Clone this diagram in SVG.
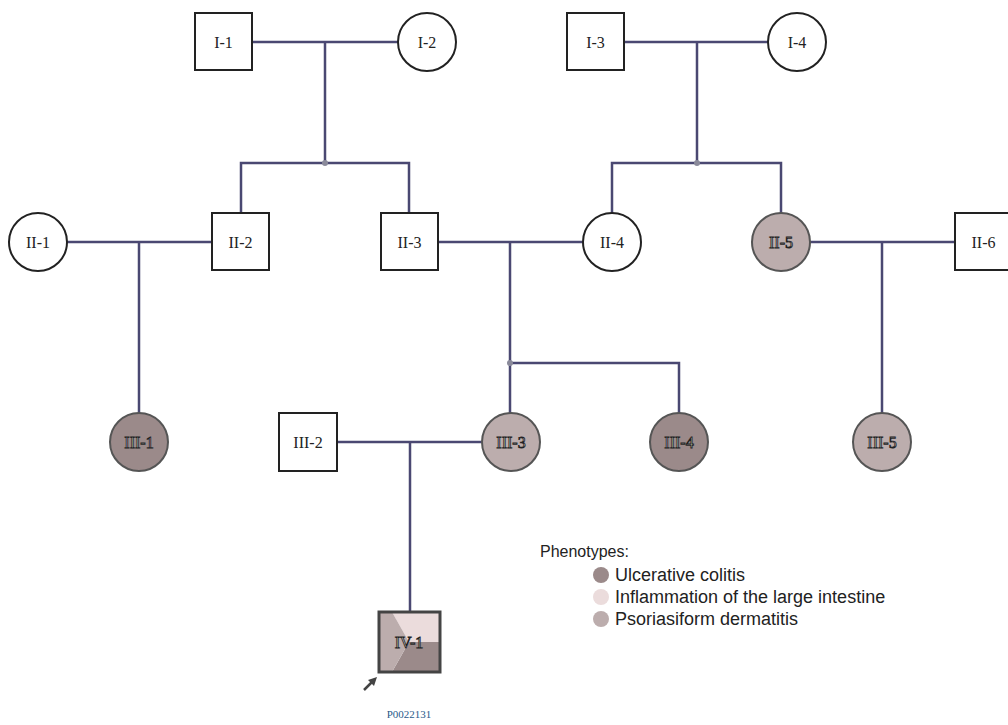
<svg xmlns="http://www.w3.org/2000/svg" width="1008" height="725" viewBox="0 0 1008 725">
<style>
.ln{stroke:#4a4872;stroke-width:2.5;fill:none}
.sq{fill:#fff;stroke:#222;stroke-width:2}
.ci{fill:#fff;stroke:#222;stroke-width:2}
.uc{fill:#9b8a8a;stroke:#555;stroke-width:2}
.ps{fill:#bcadad;stroke:#555;stroke-width:2}
.lbl{font-family:"Liberation Serif",serif;font-size:16px;fill:#222;text-anchor:middle;dominant-baseline:central}
.lblf{font-family:"Liberation Serif",serif;font-size:16px;fill:#f6f0f0;stroke:#222;stroke-width:0.9;paint-order:fill;text-anchor:middle;dominant-baseline:central}
.leg{font-family:"Liberation Sans",Arial,sans-serif;font-size:18px;fill:#222}
.dot{fill:#8a8a9a}
</style>
<rect width="1008" height="725" fill="#fff"/>
<g id="connectors">
<path class="ln" d="M252 42H398M325 42V163M241 213V163H409V213"/>
<path class="ln" d="M623 42H769M697 42V163M612 213V163H781V213"/>
<path class="ln" d="M67 242H212M139 242V413"/>
<path class="ln" d="M438 242H583M510 242V413M510 363H679V413"/>
<path class="ln" d="M810 242H955M882 242V413"/>
<path class="ln" d="M337 442H482M410 442V612"/>
<circle class="dot" cx="325" cy="163" r="3"/>
<circle class="dot" cx="697" cy="163" r="3"/>
<circle class="dot" cx="510" cy="363" r="3"/>
</g>
<g id="I-1"><rect class="sq" x="195" y="13" width="57" height="57"/><text class="lbl" x="223.5" y="42">I-1</text></g>
<g id="I-2"><circle class="ci" cx="427" cy="42" r="29"/><text class="lbl" x="427" y="42">I-2</text></g>
<g id="I-3"><rect class="sq" x="567" y="13" width="57" height="57"/><text class="lbl" x="595.5" y="42">I-3</text></g>
<g id="I-4"><circle class="ci" cx="797" cy="42" r="29"/><text class="lbl" x="797" y="42">I-4</text></g>
<g id="II-1"><circle class="ci" cx="38" cy="242" r="29"/><text class="lbl" x="38" y="242">II-1</text></g>
<g id="II-2"><rect class="sq" x="212" y="213" width="57" height="57"/><text class="lbl" x="240.5" y="242">II-2</text></g>
<g id="II-3"><rect class="sq" x="381" y="213" width="57" height="57"/><text class="lbl" x="409.5" y="242">II-3</text></g>
<g id="II-4"><circle class="ci" cx="612" cy="242" r="29"/><text class="lbl" x="612" y="242">II-4</text></g>
<g id="II-5"><circle class="ps" cx="781" cy="242" r="29"/><text class="lblf" x="781" y="242">II-5</text></g>
<g id="II-6"><rect class="sq" x="955" y="213" width="57" height="57"/><text class="lbl" x="983.5" y="242">II-6</text></g>
<g id="III-1"><circle class="uc" cx="139" cy="442" r="29"/><text class="lblf" x="139" y="442">III-1</text></g>
<g id="III-2"><rect class="sq" x="279" y="413" width="58" height="58"/><text class="lbl" x="308" y="442">III-2</text></g>
<g id="III-3"><circle class="ps" cx="511" cy="442" r="29"/><text class="lblf" x="511" y="442">III-3</text></g>
<g id="III-4"><circle class="uc" cx="679" cy="442" r="29"/><text class="lblf" x="679" y="442">III-4</text></g>
<g id="III-5"><circle class="ps" cx="882" cy="442" r="29"/><text class="lblf" x="882" y="442">III-5</text></g>
<g id="IV-1">
<polygon points="409,642 440,642 440,672 392,672" fill="#9b8a8a"/>
<polygon points="409,642 392,612 440,612 440,642" fill="#ebdcdc"/>
<polygon points="409,642 392,672 379,672 379,612 392,612" fill="#bcadad"/>
<rect x="379" y="612" width="61" height="60" fill="none" stroke="#444" stroke-width="3"/>
<text class="lblf" x="409" y="642">IV-1</text>
<path d="M364 690L373 681" stroke="#444" stroke-width="2.5"/>
<polygon points="377,677 368,680 374,686" fill="#444"/>
<text x="409" y="718" font-family="'Liberation Serif',serif" font-size="11" fill="#2a5a8a" text-anchor="middle">P0022131</text>
</g>
<g id="legend">
<text class="leg" x="540" y="557" style="font-size:16px">Phenotypes:</text>
<circle cx="601" cy="575" r="8" fill="#9b8a8a"/>
<text class="leg" x="615" y="581">Ulcerative colitis</text>
<circle cx="601" cy="597" r="8" fill="#ebdcdc"/>
<text class="leg" x="615" y="603">Inflammation of the large intestine</text>
<circle cx="601" cy="619" r="8" fill="#bcadad"/>
<text class="leg" x="615" y="625">Psoriasiform dermatitis</text>
</g>
</svg>
